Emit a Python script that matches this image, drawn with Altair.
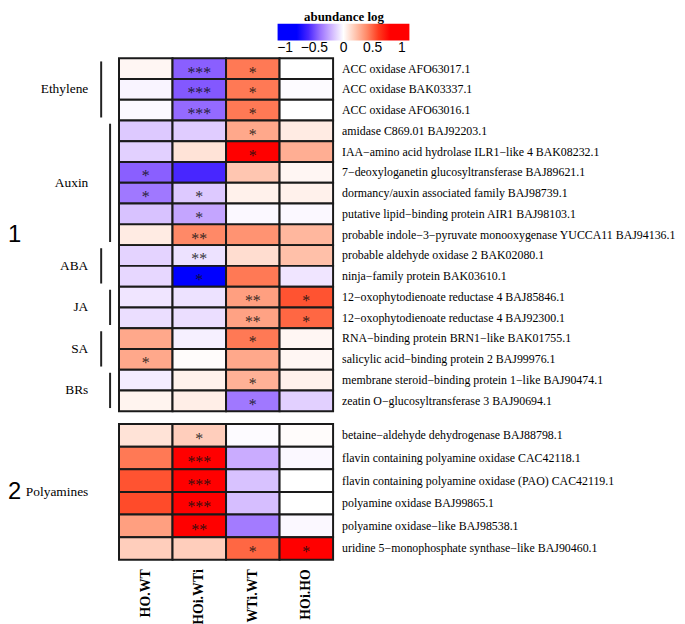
import altair as alt
import pandas as pd

cols = ["HO.WT", "HOi.WTi", "WTi.WT", "HOi.HO"]

genes_1 = [
    "ACC oxidase AFO63017.1",
    "ACC oxidase BAK03337.1",
    "ACC oxidase AFO63016.1",
    "amidase C869.01 BAJ92203.1",
    "IAA\u2212amino acid hydrolase ILR1\u2212like 4 BAK08232.1",
    "7\u2212deoxyloganetin glucosyltransferase BAJ89621.1",
    "dormancy/auxin associated family BAJ98739.1",
    "putative lipid\u2212binding protein AIR1 BAJ98103.1",
    "probable indole\u22123\u2212pyruvate monooxygenase YUCCA11 BAJ94136.1",
    "probable aldehyde oxidase 2 BAK02080.1",
    "ninja\u2212family protein BAK03610.1",
    "12\u2212oxophytodienoate reductase 4 BAJ85846.1",
    "12\u2212oxophytodienoate reductase 4 BAJ92300.1",
    "RNA\u2212binding protein BRN1\u2212like BAK01755.1",
    "salicylic acid\u2212binding protein 2 BAJ99976.1",
    "membrane steroid\u2212binding protein 1\u2212like BAJ90474.1",
    "zeatin O\u2212glucosyltransferase 3 BAJ90694.1",
]
ho_wt_1 = [0.03, -0.03, -0.02, -0.15, -0.13, -0.45, -0.38, -0.17, 0.07, -0.12, -0.11, -0.07, -0.09, 0.30, 0.30, -0.05, 0.04]
hoi_wti_1 = [-0.45, -0.47, -0.42, -0.14, 0.10, -0.60, -0.15, -0.25, 0.40, -0.08, -0.70, -0.08, -0.09, -0.04, 0.01, 0.05, 0.06]
wti_wt_1 = [0.45, 0.45, 0.45, 0.30, 0.70, 0.20, 0.05, -0.02, 0.37, 0.12, 0.45, 0.33, 0.32, 0.45, 0.30, 0.27, -0.38]
hoi_ho_1 = [0.00, -0.01, 0.00, 0.07, 0.28, 0.03, 0.05, -0.02, 0.25, 0.22, -0.07, 0.55, 0.50, 0.03, 0.03, 0.05, -0.13]
st_ho_wt_1 = ["", "", "", "", "", "*", "*", "", "", "", "", "", "", "", "*", "", ""]
st_hoi_wti_1 = ["***", "***", "***", "", "", "", "*", "*", "**", "**", "*", "", "", "", "", "", ""]
st_wti_wt_1 = ["*", "*", "*", "*", "*", "", "", "", "", "", "", "**", "**", "*", "", "*", "*"]
st_hoi_ho_1 = ["", "", "", "", "", "", "", "", "", "", "", "*", "*", "", "", "", ""]
group_names_1 = ["Ethylene", "Auxin", "ABA", "JA", "SA", "BRs"]
group_sizes_1 = [3, 6, 2, 2, 2, 2]

genes_2 = [
    "betaine\u2212aldehyde dehydrogenase BAJ88798.1",
    "flavin containing polyamine oxidase CAC42118.1",
    "flavin containing polyamine oxidase (PAO) CAC42119.1",
    "polyamine oxidase BAJ99865.1",
    "polyamine oxidase\u2212like BAJ98538.1",
    "uridine 5\u2212monophosphate synthase\u2212like BAJ90460.1",
]
ho_wt_2 = [0.10, 0.45, 0.55, 0.57, 0.33, 0.17]
hoi_wti_2 = [0.17, 0.70, 0.70, 0.70, 0.70, 0.17]
wti_wt_2 = [-0.01, -0.23, -0.17, -0.18, -0.37, 0.50]
hoi_ho_2 = [0.01, -0.02, 0.00, 0.00, -0.02, 0.70]
st_ho_wt_2 = ["", "", "", "", "", ""]
st_hoi_wti_2 = ["*", "***", "***", "***", "**", ""]
st_wti_wt_2 = ["", "", "", "", "", "*"]
st_hoi_ho_2 = ["", "", "", "", "", "*"]
group_names_2 = ["Polyamines"]
group_sizes_2 = [6]

panel_labels = ["1", "2"]
legend_values = [-1, -0.5, 0, 0.5, 1]

SERIF = "Liberation Serif"
SANS = "Liberation Sans"

color_scale = alt.Scale(
    domain=[-1.13, -0.66, 0, 0.66, 1.13],
    range=["#0000ff", "#0000ff", "#ffffff", "#ff0000", "#ff0000"],
    interpolate="lab",
)
legend = alt.Legend(
    title="abundance log", orient="none", direction="horizontal",
    legendX=160, legendY=-48, gradientLength=133, gradientThickness=17,
    titleFont=SERIF, titleFontWeight="bold", titleFontSize=13, titleColor="black",
    titleAnchor="middle", titlePadding=0,
    labelFont=SANS, labelFontSize=14, labelColor="black", format=".1~f", labelOffset=1,
    values=legend_values, labelOverlap=False, gradientStrokeWidth=0,
)


def make_panel(genes, col_vals, col_stars, group_names, group_sizes, label, height, show_x):
    n = len(genes)
    rows = []
    for ci, c in enumerate(cols):
        for i, g in enumerate(genes):
            rows.append({"gene": g, "col": c, "value": col_vals[ci][i], "stars": col_stars[ci][i],
                         "y0": i, "y1": i + 1, "ym": i + 0.5})
    df = pd.DataFrame(rows)
    gdf = pd.DataFrame({"gene": genes, "ym": [i + 0.5 for i in range(n)]})
    grows = []
    start = 0
    for k, (nm, sz) in enumerate(zip(group_names, group_sizes)):
        grows.append({"name": nm, "k": k, "gs": start + 0.15, "ge": start + sz - 0.15, "gm": start + sz / 2})
        start += sz
    grp = pd.DataFrame(grows)

    yscale = alt.Scale(domain=[0, n], reverse=True, nice=False, zero=False)
    xenc = alt.X("col:N", sort=cols, scale=alt.Scale(paddingInner=0, paddingOuter=0),
                 axis=(alt.Axis(title=None, labelAngle=270, labelFont=SERIF, labelFontWeight="bold",
                                labelFontSize=14, labelColor="black", ticks=False, domain=False,
                                labelPadding=9) if show_x else None))

    rect = alt.Chart(df).mark_rect(stroke="#1a1a1a", strokeWidth=2).encode(
        x=xenc,
        y=alt.Y("y0:Q", scale=yscale, axis=None),
        y2="y1:Q",
        color=alt.Color("value:Q", scale=color_scale, legend=legend),
    )
    stars = alt.Chart(df).mark_text(font=SERIF, fontSize=16, baseline="middle", dy=4,
                                    color="#111111", opacity=0.85).encode(
        x=alt.X("col:N", sort=cols),
        y=alt.Y("ym:Q", scale=yscale, axis=None),
        text="stars:N",
    )
    glabels = alt.Chart(gdf).mark_text(font=SERIF, fontSize=12, align="left", baseline="middle",
                                       color="black").encode(
        x=alt.value(225),
        y=alt.Y("ym:Q", scale=yscale, axis=None),
        text="gene:N",
    )
    layers = [rect, stars, glabels]
    if len(group_names) > 1:
        bars_a = alt.Chart(grp).transform_filter("datum.k % 2 == 0").mark_rule(
            color="#222222", strokeWidth=2).encode(
            x=alt.value(-18), y=alt.Y("gs:Q", scale=yscale, axis=None), y2="ge:Q")
        bars_b = alt.Chart(grp).transform_filter("datum.k % 2 == 1").mark_rule(
            color="#222222", strokeWidth=2).encode(
            x=alt.value(-9), y=alt.Y("gs:Q", scale=yscale, axis=None), y2="ge:Q")
        layers += [bars_a, bars_b]
    names = alt.Chart(grp).mark_text(font=SERIF, fontSize=13.5, align="right", baseline="middle",
                                     color="black").encode(
        x=alt.value(-31), y=alt.Y("gm:Q", scale=yscale, axis=None), text="name:N")
    pl = alt.Chart(pd.DataFrame({"t": [label], "m": [n / 2]})).mark_text(
        font=SANS, fontSize=24, align="left", baseline="middle", color="black").encode(
        x=alt.value(-112), y=alt.Y("m:Q", scale=yscale, axis=None), text="t:N")
    layers += [names, pl]
    return alt.layer(*layers).properties(width=216, height=height)


top = make_panel(genes_1, [ho_wt_1, hoi_wti_1, wti_wt_1, hoi_ho_1],
                 [st_ho_wt_1, st_hoi_wti_1, st_wti_wt_1, st_hoi_ho_1],
                 group_names_1, group_sizes_1, panel_labels[0], 356, False)
bottom = make_panel(genes_2, [ho_wt_2, hoi_wti_2, wti_wt_2, hoi_ho_2],
                    [st_ho_wt_2, st_hoi_wti_2, st_wti_wt_2, st_hoi_ho_2],
                    group_names_2, group_sizes_2, panel_labels[1], 137, True)

chart = alt.vconcat(top, bottom, spacing=10).resolve_scale(
    y="independent", color="shared"
).configure_view(stroke=None).properties(padding=0, background="white")

chart.save("out.html", embed_options={"renderer": "svg", "actions": False})
